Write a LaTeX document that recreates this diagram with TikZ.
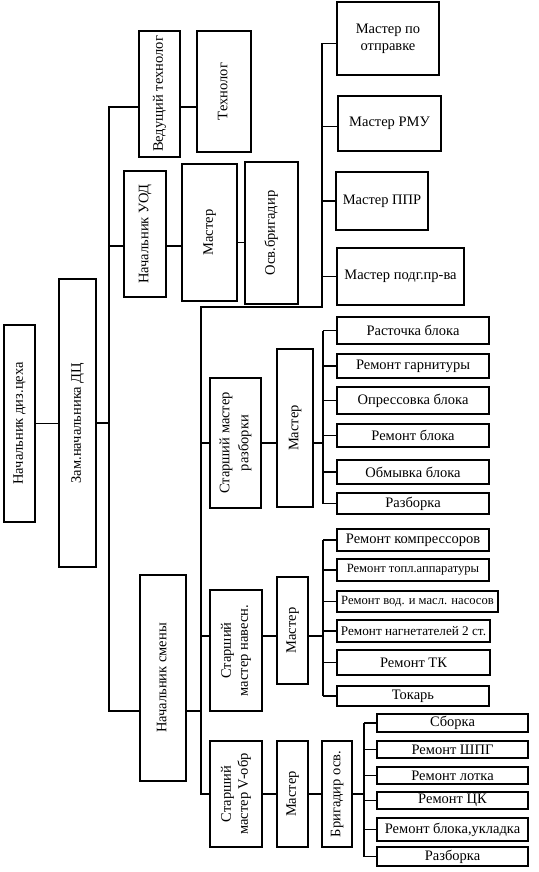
\documentclass[tikz,border=0pt]{standalone}
\usepackage{fontspec}
\setmainfont{Liberation Serif}
\usepackage{graphicx}
\usetikzlibrary{calc,positioning}

% vertical (rotated) text inside a box
\newcommand{\vt}[1]{\rotatebox{90}{\begin{tabular}{@{}c@{}}#1\end{tabular}}}

\begin{document}
\begin{tikzpicture}[
    x=1pt, y=-1pt,
    box/.style={draw, line width=1.3pt, inner sep=0pt, align=center,
        font=\fontsize{14.5}{17}\selectfont},
    small/.style={font=\fontsize{12.6}{15}\selectfont},
    link/.style={line width=1.3pt}
]
\useasboundingbox (0,0) rectangle (538,872);

% Head of the workshop
\node[box, minimum width=31pt, minimum height=197pt] (nach) at (19.5,423.5)
    {\vt{Начальник диз.цеха}};
\node[box, minimum width=37pt, minimum height=288pt] (zam) at (77.5,423)
    {\vt{Зам.начальника ДЦ}};

% Upper branch
\node[box, minimum width=41pt, minimum height=126pt] (vedtech) at (159.5,94)
    {\vt{Ведущий технолог}};
\node[box, minimum width=54pt, minimum height=121pt] (tech) at (224,91.5)
    {\vt{Технолог}};
\node[box, minimum width=42pt, minimum height=126pt] (uod) at (145,234)
    {\vt{Начальник УОД}};
\node[box, minimum width=55pt, minimum height=137pt] (uodm) at (209.5,232.5)
    {\vt{Мастер}};
\node[box, minimum width=53pt, minimum height=142pt] (osv) at (271.5,233)
    {\vt{Осв.бригадир}};

% Masters, right column
\node[box, minimum width=102pt, minimum height=73pt] (otpr) at (388,38.5)
    {Мастер по\\отправке};
\node[box, minimum width=103pt, minimum height=55pt] (rmu) at (389.5,123.5)
    {Мастер РМУ};
\node[box, minimum width=92pt, minimum height=58pt] (ppr) at (382,201)
    {Мастер ППР};
\node[box, minimum width=127pt, minimum height=57pt] (podg) at (400.5,276.5)
    {Мастер подг.пр-ва};

% Shift
\node[box, minimum width=46pt, minimum height=206pt] (smena) at (163,678)
    {\vt{Начальник смены}};

% Disassembly
\node[box, minimum width=51pt, minimum height=130pt] (sm1) at (235.5,443)
    {\vt{Старший мастер\\[2pt] разборки}};
\node[box, minimum width=36pt, minimum height=158pt] (m1) at (295,428)
    {\vt{Мастер}};
\node[box, minimum width=152pt, minimum height=27pt] (r1) at (413,330.5) {Расточка блока};
\node[box, minimum width=152pt, minimum height=24pt] (r2) at (413,366) {Ремонт гарнитуры};
\node[box, minimum width=152pt, minimum height=27pt] (r3) at (413,400.5) {Опрессовка блока};
\node[box, minimum width=152pt, minimum height=23pt] (r4) at (413,435.5) {Ремонт блока};
\node[box, minimum width=152pt, minimum height=24pt] (r5) at (413,472) {Обмывка блока};
\node[box, minimum width=152pt, minimum height=21pt] (r6) at (413,503.5) {Разборка};

% Attachments
\node[box, minimum width=52pt, minimum height=121pt] (sm2) at (236,650.5)
    {\vt{Старший\\ мастер навесн.}};
\node[box, minimum width=31pt, minimum height=107pt] (m2) at (292.5,630.5)
    {\vt{Мастер}};
\node[box, minimum width=152pt, minimum height=22pt] (n1) at (413,540) {Ремонт компрессоров};
\node[box, small, minimum width=152pt, minimum height=22pt] (n2) at (413,570) {Ремонт топл.аппаратуры};
\node[box, small, minimum width=161pt, minimum height=21pt] (n3) at (417.5,601.5) {Ремонт вод. и масл. насосов};
\node[box, small, font=\fontsize{13.2}{15}\selectfont, minimum width=153pt, minimum height=22pt] (n4) at (413.5,631) {Ремонт нагнетателей 2 ст.};
\node[box, minimum width=153pt, minimum height=25pt] (n5) at (413.5,662.5) {Ремонт ТК};
\node[box, minimum width=152pt, minimum height=20pt] (n6) at (413,696) {Токарь};

% V-engines
\node[box, minimum width=52pt, minimum height=106pt] (sm3) at (236,794)
    {\vt{Старший\\ мастер V-обр}};
\node[box, minimum width=31pt, minimum height=106pt] (m3) at (292.5,794)
    {\vt{Мастер}};
\node[box, minimum width=30pt, minimum height=106pt] (brig) at (337,794)
    {\vt{Бригадир осв.}};
\node[box, minimum width=151pt, minimum height=18pt] (v1) at (452.5,723) {Сборка};
\node[box, minimum width=151pt, minimum height=17pt] (v2) at (452.5,749.5) {Ремонт ШПГ};
\node[box, minimum width=151pt, minimum height=17pt] (v3) at (452.5,775.5) {Ремонт лотка};
\node[box, minimum width=151pt, minimum height=17pt] (v4) at (452.5,800.5) {Ремонт ЦК};
\node[box, minimum width=151pt, minimum height=23pt] (v5) at (452.5,829.5) {Ремонт блока,укладка};
\node[box, minimum width=151pt, minimum height=19pt] (v6) at (452.5,856.5) {Разборка};

% Bus lines
\coordinate (trunk) at (109,425);
\coordinate (busR) at (322,307);
\coordinate (busL) at (201,307);
\coordinate (bus1) at (323,330);
\coordinate (bus2) at (323,540);
\coordinate (bus3) at (364,723);

% Connectors
\draw[link] (nach.east) -- (nach.east -| zam.west);
\draw[link] (zam.east) -- (zam.east -| trunk);
\draw[link] ([yshift=-13pt]vedtech.west) -| (trunk) |- ([yshift=-33pt]smena.west);
\draw[link] ([yshift=-13pt]vedtech.east) -- ([yshift=-13pt]vedtech.east -| tech.west);
\draw[link] ([yshift=-12pt]uod.west) -- ([yshift=-12pt]uod.west -| trunk);
\draw[link] ([yshift=-12pt]uod.east) -- ([yshift=-12pt]uod.east -| uodm.west);
\draw[link] ([yshift=-10pt]uodm.east) -- ([yshift=-10pt]uodm.east -| osv.west);

\draw[link] ([yshift=-5pt]otpr.west) -| (busR) -- (busL) |- (sm3.west);
\draw[link] ([yshift=-3pt]rmu.west) -- ([yshift=-3pt]rmu.west -| busR);
\draw[link] (ppr.west) -- (ppr.west -| busR);
\draw[link] (podg.west) -- (podg.west -| busR);
\draw[link] ([yshift=-33pt]smena.east) -- ([yshift=-33pt]smena.east -| busL);
\draw[link] (sm1.west) -- (sm1.west -| busL);
\draw[link] ([yshift=14.5pt]sm2.west) -- ([yshift=14.5pt]sm2.west -| busL);

% Disassembly chain
\draw[link] (sm1.east) -- (sm1.east -| m1.west);
\draw[link] (sm1.east -| m1.east) -- (sm1.east -| bus1);
\draw[link] (r1.west -| bus1) -- (r6.west -| bus1);
\foreach \i in {1,...,6}
    \draw[link] (r\i.west) -- (r\i.west -| bus1);

% Attachments chain
\draw[link] ([yshift=14.5pt]sm2.east) -- ([yshift=14.5pt]sm2.east -| m2.west);
\draw[link] ([yshift=14.5pt]sm2.east -| m2.east) -- ([yshift=14.5pt]sm2.east -| bus2);
\draw[link] (n1.west -| bus2) -- (n6.west -| bus2);
\foreach \i in {1,...,6}
    \draw[link] (n\i.west) -- (n\i.west -| bus2);

% V-engines chain
\draw[link] (sm3.east) -- (m3.west);
\draw[link] (m3.east) -- (brig.west);
\draw[link] (brig.east) -- (brig.east -| bus3);
\draw[link] (v1.west -| bus3) -- (v6.west -| bus3);
\foreach \i in {1,...,6}
    \draw[link] (v\i.west) -- (v\i.west -| bus3);

\end{tikzpicture}
\end{document}
